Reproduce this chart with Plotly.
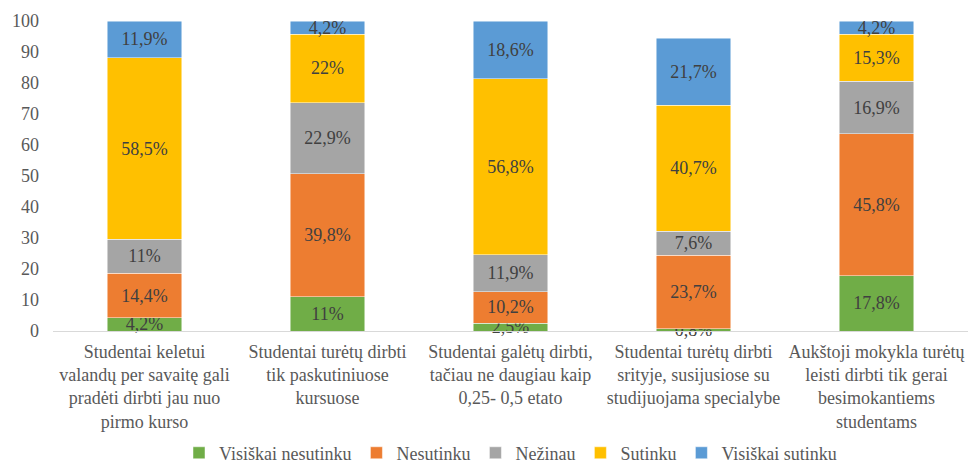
import plotly.graph_objects as go

categories = [
    "Studentai keletui<br>valandų per savaitę gali<br>pradėti dirbti jau nuo<br>pirmo kurso",
    "Studentai turėtų dirbti<br>tik paskutiniuose<br>kursuose",
    "Studentai galėtų dirbti,<br>tačiau ne daugiau kaip<br>0,25- 0,5 etato",
    "Studentai turėtų dirbti<br>srityje, susijusiose su<br>studijuojama specialybe",
    "Aukštoji mokykla turėtų<br>leisti dirbti tik gerai<br>besimokantiems<br>studentams",
]
series_names = ["Visiškai nesutinku", "Nesutinku", "Nežinau", "Sutinku", "Visiškai sutinku"]
visiskai_nesutinku = [4.2, 11, 2.5, 0.8, 17.8]
nesutinku = [14.4, 39.8, 10.2, 23.7, 45.8]
nezinau = [11, 22.9, 11.9, 7.6, 16.9]
sutinku = [58.5, 22, 56.8, 40.7, 15.3]
visiskai_sutinku = [11.9, 4.2, 18.6, 21.7, 4.2]
y_ticks = list(range(0, 101, 10))

series_values = [visiskai_nesutinku, nesutinku, nezinau, sutinku, visiskai_sutinku]
colors = ["#70AD47", "#ED7D31", "#A5A5A5", "#FFC000", "#5B9BD5"]

FONT = "Liberation Serif"

def fmt(v):
    s = ("%g" % v).replace(".", ",")
    return s + "%"

fig = go.Figure()
for name, vals, col in zip(series_names, series_values, colors):
    fig.add_trace(go.Bar(
        x=categories, y=vals, name=name,
        marker=dict(color=col, line=dict(color="rgba(255,255,255,0.6)", width=0.8)),
        text=[fmt(v) for v in vals],
        textposition="inside", insidetextanchor="middle",
        textfont=dict(family=FONT, size=18, color="#404040"),
        constraintext="none", cliponaxis=False,
    ))

fig.update_layout(
    template="none",
    barmode="stack", bargap=0.595,
    width=970, height=470,
    margin=dict(l=53, r=2, t=21, b=139),
    plot_bgcolor="white", paper_bgcolor="white",
    font=dict(family=FONT, size=18, color="#595959"),
    uniformtext=dict(minsize=18, mode="show"),
    showlegend=True,
    legend=dict(orientation="h", x=0.5, xanchor="center", xref="paper",
                y=0.036, yanchor="middle", yref="container",
                font=dict(family=FONT, size=18, color="#595959"),
                traceorder="normal", itemwidth=30),
    xaxis=dict(showline=True, linecolor="#D9D9D9", linewidth=1, ticks="", automargin=False,
               ticklabelstandoff=4,
               tickfont=dict(family=FONT, size=18, color="#595959"), showgrid=False),
    yaxis=dict(range=[0, 100], tickvals=y_ticks, showgrid=False, zeroline=False, automargin=False,
               showline=False, ticks="", ticklabelstandoff=13,
               tickfont=dict(family=FONT, size=18, color="#595959")),
)

fig.write_html("out.html", config={"displayModeBar": False},
               post_script="document.body.style.margin='0';")
